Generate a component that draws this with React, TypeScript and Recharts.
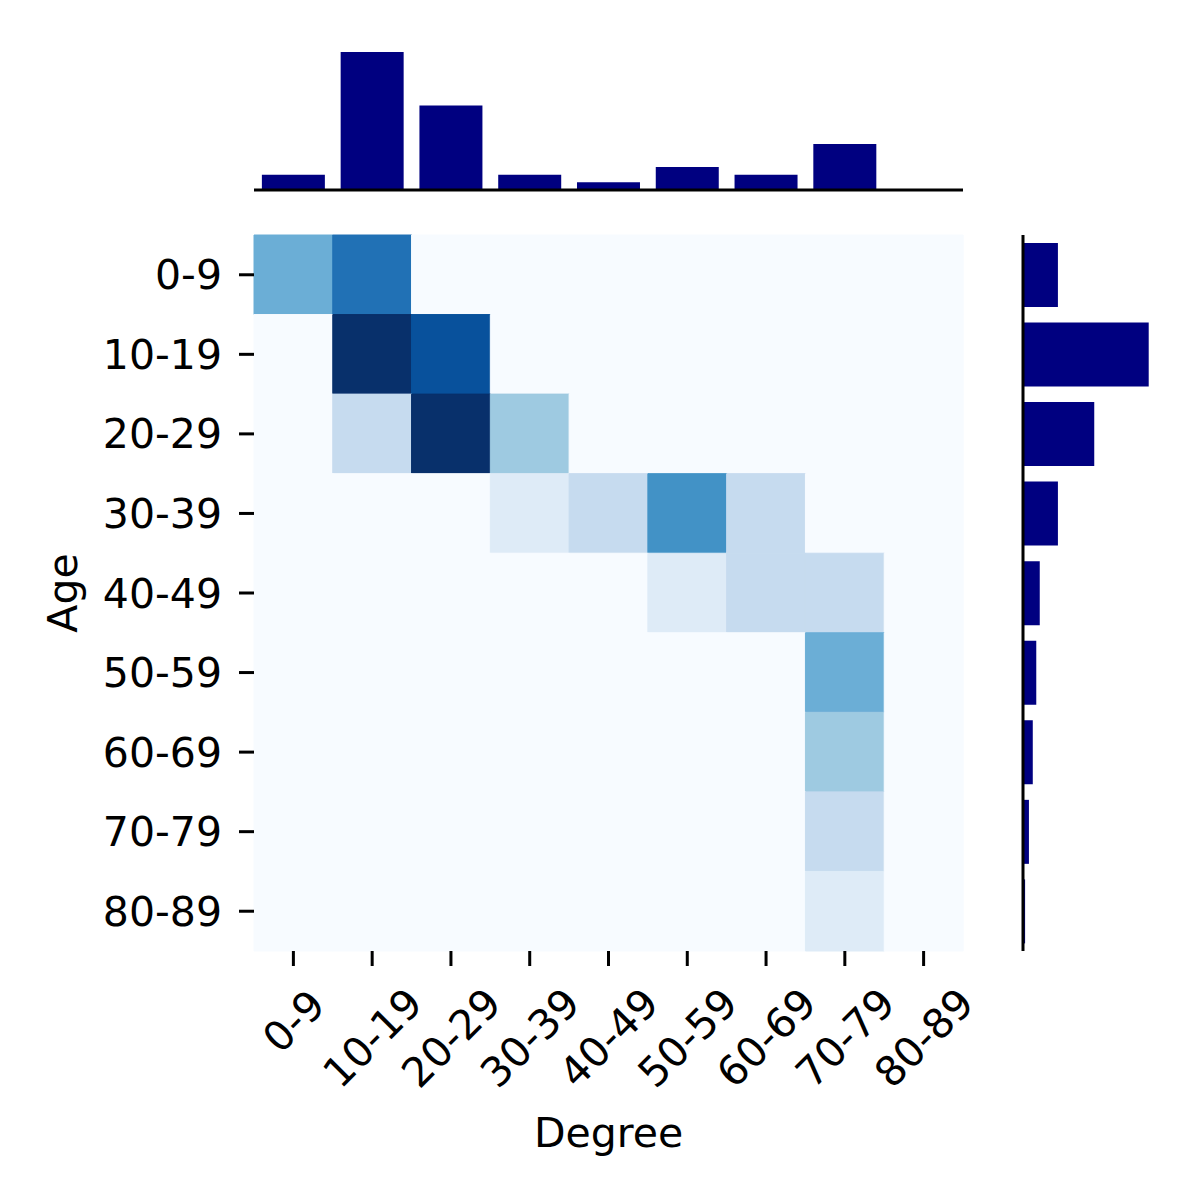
import { BarChart, Bar, XAxis, YAxis, Cell, Label } from "recharts"

const ageBins = ["0-9", "10-19", "20-29", "30-39", "40-49", "50-59", "60-69", "70-79", "80-89"]
const degreeBins = ["0-9", "10-19", "20-29", "30-39", "40-49", "50-59", "60-69", "70-79", "80-89"]

// heat level per cell (rows = age, cols = degree), 0..8
const heatLevels = [
  [4, 6, 0, 0, 0, 0, 0, 0, 0],
  [0, 8, 7, 0, 0, 0, 0, 0, 0],
  [0, 2, 8, 3, 0, 0, 0, 0, 0],
  [0, 0, 0, 1, 2, 5, 2, 0, 0],
  [0, 0, 0, 0, 0, 1, 2, 2, 0],
  [0, 0, 0, 0, 0, 0, 0, 4, 0],
  [0, 0, 0, 0, 0, 0, 0, 3, 0],
  [0, 0, 0, 0, 0, 0, 0, 2, 0],
  [0, 0, 0, 0, 0, 0, 0, 1, 0],
]

const degreeCounts = [2, 18, 11, 2, 1, 3, 2, 6, 0]
const ageCounts = [5, 18, 10.2, 5, 2.4, 1.9, 1.4, 0.85, 0.3]

const blues = ["#f7fbff", "#deebf7", "#c6dbef", "#9ecae1", "#6baed6", "#4292c6", "#2171b5", "#08519c", "#08306b"]
const NAVY = "#000080"
const FONT = "DejaVu Sans, sans-serif"
const FS = 41

const heatData = degreeBins.map((d) => {
  const row: Record<string, string | number> = { degree: d }
  ageBins.forEach((_, i) => (row[`a${i}`] = 1))
  return row
})
const topData = degreeBins.map((d, i) => ({ degree: d, count: degreeCounts[i] }))
const sideData = ageBins.map((a, i) => ({ age: a, count: ageCounts[i] }))

const topMax = Math.max(...degreeCounts) * 1.05
const sideMax = Math.max(...ageCounts) * 1.05

const layer: React.CSSProperties = { position: "absolute", left: 0, top: 0 }

function RotatedTick(props: any) {
  const { x, y, payload } = props
  const label = String(payload.value)
  const digits = label.replace(/[^0-9]/g, "").length
  const w = (digits * 0.636 + 0.361) * FS * 0.9
  const cy = y + 23 + (w + 30) / 2.83
  return (
    <text
      x={x}
      y={cy}
      dy="0.36em"
      textAnchor="middle"
      transform={`rotate(-45, ${x}, ${cy})`}
      fontSize={FS}
      fontFamily={FONT}
      fill="#000"
    >
      {label}
    </text>
  )
}

export default function App() {
  return (
    <div style={{ position: "absolute", left: 0, top: 0, width: 1200, height: 1200, background: "#fff" }}>
      {/* heatmap */}
      <BarChart
        width={1200}
        height={1200}
        data={heatData}
        margin={{ top: 235, right: 237, bottom: 0, left: 0 }}
        barCategoryGap={0}
        style={layer}
      >
        <XAxis
          dataKey="degree"
          type="category"
          height={249}
          axisLine={false}
          tickSize={15}
          tickLine={{ stroke: "#000", strokeWidth: 3 }}
          tickMargin={0}
          tick={<RotatedTick />}
          interval={0}
        >
          <Label
            content={({ viewBox }: any) => (
              <text
                x={viewBox.x + viewBox.width / 2}
                y={viewBox.y + 196}
                textAnchor="middle"
                fontSize={FS}
                fontFamily={FONT}
                fill="#000"
              >
                Degree
              </text>
            )}
          />
        </XAxis>
        <YAxis
          type="number"
          domain={[0, ageBins.length]}
          reversed
          width={254}
          ticks={ageBins.map((_, i) => i + 0.5)}
          tickFormatter={(v: number) => ageBins[Math.floor(v)]}
          axisLine={false}
          tickSize={15}
          tickMargin={17}
          tickLine={{ stroke: "#000", strokeWidth: 3 }}
          tick={{ fontSize: FS, fontFamily: FONT, fill: "#000" }}
          interval={0}
        >
          <Label
            content={({ viewBox }: any) => {
              const cx = viewBox.x + 62
              const cy = viewBox.y + viewBox.height / 2
              return (
                <text
                  x={cx}
                  y={cy}
                  dy="0.36em"
                  textAnchor="middle"
                  transform={`rotate(-90, ${cx}, ${cy})`}
                  fontSize={FS}
                  fontFamily={FONT}
                  fill="#000"
                >
                  Age
                </text>
              )
            }}
          />
        </YAxis>
        {ageBins.map((_, i) => (
          <Bar key={i} dataKey={`a${i}`} stackId="h" isAnimationActive={false}>
            {degreeBins.map((__, j) => {
              const c = blues[heatLevels[i][j]]
              return <Cell key={j} fill={c} stroke={c} strokeWidth={1} />
            })}
          </Bar>
        ))}
      </BarChart>

      {/* top marginal */}
      <BarChart
        width={1200}
        height={1200}
        data={topData}
        margin={{ top: 45, right: 237, bottom: 1009, left: 254 }}
        barCategoryGap="10%"
        style={layer}
      >
        <XAxis
          dataKey="degree"
          height={1}
          tick={false}
          tickLine={false}
          axisLine={{ stroke: "#000", strokeWidth: 3 }}
        />
        <YAxis type="number" domain={[0, topMax]} hide width={0} />
        <Bar dataKey="count" fill={NAVY} isAnimationActive={false} />
      </BarChart>

      {/* side marginal */}
      <BarChart
        width={1200}
        height={1200}
        data={sideData}
        layout="vertical"
        margin={{ top: 235, right: 45, bottom: 249, left: 1022 }}
        barCategoryGap="10%"
        style={layer}
      >
        <XAxis type="number" domain={[0, sideMax]} hide height={0} />
        <YAxis
          type="category"
          dataKey="age"
          width={1}
          tick={false}
          tickLine={false}
          axisLine={{ stroke: "#000", strokeWidth: 3 }}
        />
        <Bar dataKey="count" fill={NAVY} isAnimationActive={false} />
      </BarChart>
    </div>
  )
}
